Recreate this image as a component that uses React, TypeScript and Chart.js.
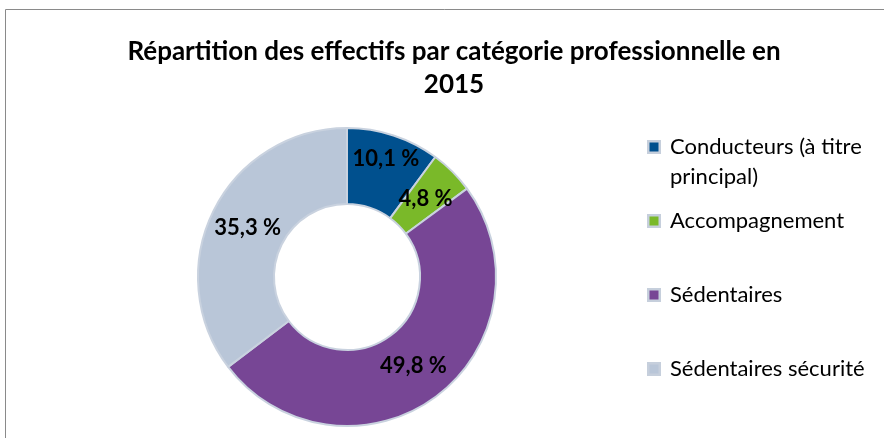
import React, { useEffect, useRef } from "react";
import { Chart, registerables } from "chart.js";

Chart.register(...registerables);

const TITLE_LINES = ["Répartition des effectifs par catégorie professionnelle en", "2015"];
const CATEGORIES = ["Conducteurs (à titre principal)", "Accompagnement", "Sédentaires", "Sédentaires sécurité"];
const VALUES = [10.1, 4.8, 49.8, 35.3];
const COLORS = ["#00508E", "#7AB929", "#774695", "#B9C6D8"];
const LABEL_RADIAL = [0.68, 0.5, 0.5, 0.5];

const FONT = "Lato, 'Open Sans', sans-serif";
const W = 884;
const H = 438;

function wrap(ctx: CanvasRenderingContext2D, text: string, maxW: number): string[] {
  const words = text.split(" ");
  const lines: string[] = [];
  let cur = "";
  for (const w of words) {
    const t = cur ? cur + " " + w : w;
    if (ctx.measureText(t).width > maxW && cur) {
      lines.push(cur);
      cur = w;
    } else cur = t;
  }
  if (cur) lines.push(cur);
  return lines;
}

const decorPlugin = {
  id: "decor",
  beforeDraw(chart: any) {
    const ctx: CanvasRenderingContext2D = chart.ctx;
    ctx.save();
    ctx.fillStyle = "#ffffff";
    ctx.fillRect(0, 0, chart.width, chart.height);
    ctx.strokeStyle = "#8a8a8a";
    ctx.lineWidth = 1;
    ctx.beginPath();
    ctx.moveTo(5.5, chart.height);
    ctx.lineTo(5.5, 9.5);
    ctx.lineTo(chart.width, 9.5);
    ctx.stroke();

    // title
    ctx.fillStyle = "#000";
    ctx.font = `bold 26px ${FONT}`;
    ctx.textAlign = "center";
    ctx.textBaseline = "middle";
    TITLE_LINES.forEach((l, i) => ctx.fillText(l, 454, 52 + i * 33));

    // legend
    ctx.font = `22px ${FONT}`;
    ctx.textAlign = "left";
    const labels: string[] = chart.data.labels;
    const colors: string[] = chart.data.datasets[0].backgroundColor;
    labels.forEach((lab, i) => {
      const y = 147 + i * 74;
      ctx.fillStyle = "#C6CFDC";
      ctx.fillRect(647, y - 7, 14, 14);
      ctx.fillStyle = colors[i];
      ctx.fillRect(649.5, y - 4.5, 9, 9);
      ctx.fillStyle = "#000";
      const lines = wrap(ctx, lab, 205);
      lines.forEach((ln, j) => ctx.fillText(ln, 670, y + j * 30));
    });
    ctx.restore();
  },
  afterDatasetsDraw(chart: any) {
    const ctx: CanvasRenderingContext2D = chart.ctx;
    const meta = chart.getDatasetMeta(0);
    const vals: number[] = chart.data.datasets[0].data;
    ctx.save();
    ctx.fillStyle = "#000";
    ctx.font = `bold 22px ${FONT}`;
    ctx.textAlign = "center";
    ctx.textBaseline = "middle";
    meta.data.forEach((arc: any, i: number) => {
      const p = arc.getProps(["x", "y", "startAngle", "endAngle", "innerRadius", "outerRadius"], true);
      const mid = (p.startAngle + p.endAngle) / 2;
      const r = p.innerRadius + LABEL_RADIAL[i] * (p.outerRadius - p.innerRadius);
      const txt = vals[i].toFixed(1).replace(".", ",") + " %";
      ctx.fillText(txt, p.x + Math.cos(mid) * r, p.y + Math.sin(mid) * r);
    });
    ctx.restore();
  },
};

export default function App() {
  const ref = useRef<HTMLCanvasElement>(null);
  useEffect(() => {
    if (!ref.current) return;
    const chart = new Chart(ref.current, {
      type: "doughnut",
      data: {
        labels: CATEGORIES,
        datasets: [
          {
            data: VALUES,
            backgroundColor: COLORS,
            borderColor: "#C9D2DF",
            borderWidth: 2,
          },
        ],
      },
      options: {
        responsive: false,
        animation: false,
        cutout: "49%",
        layout: { padding: { left: 197, top: 127, right: W - 497, bottom: H - 427 } },
        plugins: {
          legend: { display: false },
          title: { display: false },
          tooltip: { enabled: false },
        },
      },
      plugins: [decorPlugin],
    });
    return () => chart.destroy();
  }, []);
  return (
    <div style={{ position: "absolute", left: 0, top: 0, width: W, height: H, background: "#fff" }}>
      <canvas ref={ref} width={W} height={H} style={{ display: "block", width: W, height: H }} />
    </div>
  );
}
